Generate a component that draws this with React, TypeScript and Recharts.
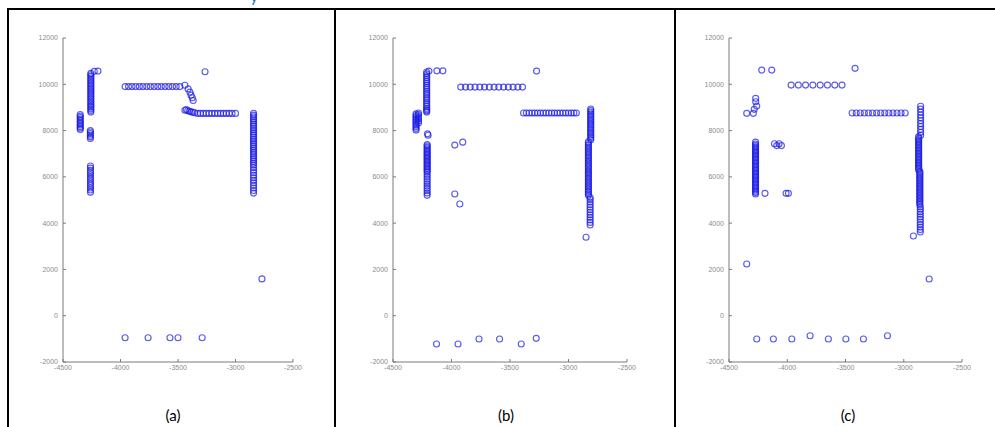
import React from 'react';
import { ScatterChart, Scatter, XAxis, YAxis } from 'recharts';

type Pt = { x: number; y: number };

const X_TICKS = [-4500, -4000, -3500, -3000, -2500];
const Y_TICKS = [-2000, 0, 2000, 4000, 6000, 8000, 10000, 12000];
const CAPTIONS = ['(a)', '(b)', '(c)'];

// ---- panel (a) ----
const aLeftBlockX = -4350;
const aLeftBlockY = [8050, 8110, 8170, 8240, 8300, 8360, 8430, 8490, 8560, 8620, 8690];
const aUpperColX = -4258;
const aUpperColY = [8800, 8870, 8940, 9010, 9080, 9150, 9220, 9290, 9360, 9430, 9500, 9570, 9640, 9710, 9780, 9850, 9920, 9990, 10060, 10130, 10200, 10270, 10340, 10410, 10470];
const aMidSegX = -4262;
const aMidSegY = [7660, 7730, 7800, 7870, 7940, 8000];
const aLowerColX = -4261;
const aLowerColY = [5340, 5430, 5520, 5620, 5710, 5800, 5900, 5990, 6090, 6180, 6280, 6380, 6470];
const aRightColX = -2843;
const aRightColY = [5300, 5410, 5520, 5630, 5740, 5850, 5960, 6070, 6180, 6290, 6400, 6510, 6590, 6670, 6750, 6830, 6910, 6990, 7070, 7150, 7230, 7310, 7390, 7470, 7550, 7630, 7710, 7790, 7870, 7950, 8030, 8110, 8190, 8270, 8350, 8430, 8510, 8590, 8670, 8750];
const aTopRowY = 9900;
const aTopRowX = [-3960, -3930, -3900, -3868, -3836, -3805, -3772, -3740, -3708, -3676, -3645, -3612, -3580, -3548, -3516, -3484];
const aLowRowY = 8740;
const aLowRowX = [-3330, -3305, -3280, -3255, -3230, -3205, -3180, -3155, -3130, -3105, -3080, -3055, -3030, -3000];
const aPoints: [number, number][] = [
  [-4228, 10560], [-4196, 10570],
  [-3440, 9960], [-3412, 9800], [-3396, 9660], [-3386, 9530], [-3376, 9420], [-3368, 9300],
  [-3440, 8880], [-3428, 8910], [-3415, 8860], [-3400, 8830], [-3385, 8810], [-3370, 8790], [-3355, 8770],
  [-3265, 10540], [-2770, 1590],
  [-3960, -950], [-3760, -950], [-3570, -950], [-3500, -950], [-3290, -950],
];

// ---- panel (b) ----
const bLeftAX = -4303;
const bLeftAY = [8020, 8090, 8160, 8230, 8300, 8370, 8440, 8510, 8580, 8650, 8720];
const bLeftBX = -4282;
const bLeftBY = [8330, 8420, 8510, 8600, 8690, 8760];
const bUpperColX = -4212;
const bUpperColY = [8800, 8850, 8900, 8960, 9040, 9120, 9200, 9290, 9370, 9450, 9540, 9620, 9700, 9790, 9870, 9950, 10040, 10120, 10200, 10290, 10370, 10450, 10530];
const bLowerColX = -4208;
const bLowerColY = [5200, 5300, 5400, 5500, 5600, 5700, 5800, 5900, 6000, 6100, 6200, 6260, 6320, 6380, 6440, 6500, 6560, 6620, 6680, 6740, 6800, 6860, 6920, 6980, 7040, 7100, 7160, 7220, 7280, 7340, 7400];
const bRightTopX = -2810;
const bRightTopY = [7600, 7670, 7740, 7810, 7880, 7950, 8020, 8090, 8160, 8230, 8300, 8370, 8440, 8510, 8580, 8650, 8720, 8790, 8860, 8930];
const bRightMidX = -2830;
const bRightMidY = [5200, 5270, 5340, 5410, 5480, 5550, 5620, 5690, 5760, 5830, 5900, 5970, 6040, 6110, 6180, 6250, 6320, 6390, 6460, 6530, 6600, 6670, 6740, 6810, 6880, 6950, 7020, 7090, 7160, 7230, 7300, 7370, 7440, 7510];
const bRightLowX = -2815;
const bRightLowY = [3920, 4030, 4140, 4250, 4360, 4470, 4580, 4690, 4800, 4910, 5020, 5110];
const bHighRowY = 9880;
const bHighRowX = [-3921, -3880, -3840, -3799, -3758, -3718, -3677, -3636, -3596, -3555, -3514, -3474, -3433, -3393];
const bLowRowY = 8760;
const bLowRowX = [-3384, -3360, -3336, -3312, -3288, -3264, -3240, -3216, -3192, -3168, -3144, -3120, -3096, -3072, -3048, -3024, -3000, -2976, -2954, -2933];
const bPoints: [number, number][] = [
  [-4193, 10570], [-4125, 10580], [-4074, 10580],
  [-4205, 7860], [-4200, 7800],
  [-3972, 7374], [-3904, 7500], [-3972, 5260], [-3929, 4826],
  [-3273, 10570], [-2850, 3390],
  [-4128, -1222], [-3944, -1222], [-3765, -1006], [-3589, -1006], [-3404, -1222], [-3276, -976],
];

// ---- panel (c) ----
const cLeftColX = -4272;
const cLeftColY = [5260, 5320, 5380, 5440, 5500, 5560, 5620, 5680, 5740, 5800, 5860, 5920, 5980, 6040, 6100, 6160, 6220, 6280, 6340, 6400, 6460, 6520, 6580, 6640, 6700, 6760, 6820, 6880, 6940, 7000, 7060, 7120, 7180, 7240, 7300, 7360, 7420, 7500];
const cRightTopX = -2855;
const cRightTopY = [7800, 7925, 8050, 8175, 8300, 8425, 8550, 8675, 8800, 8925, 9050];
const cRightMidX = -2872;
const cRightMidY = [6300, 6365, 6430, 6495, 6560, 6625, 6690, 6755, 6820, 6885, 6950, 7015, 7080, 7145, 7210, 7275, 7340, 7405, 7470, 7535, 7600, 7665, 7740];
const cRightDenseX = -2862;
const cRightDenseY = [4800, 4865, 4930, 4995, 5060, 5125, 5190, 5255, 5320, 5385, 5450, 5515, 5580, 5645, 5710, 5775, 5840, 5905, 5970, 6035, 6100, 6170, 6235];
const cRightLowX = -2858;
const cRightLowY = [3616, 3720, 3830, 3940, 4050, 4160, 4270, 4380, 4490, 4600, 4700];
const cHighRowY = 9966;
const cHighRowX = [-3967, -3905, -3843, -3780, -3717, -3655, -3592, -3530];
const cRightRowY = 8760;
const cRightRowX = [-3443, -3408, -3373, -3338, -3303, -3268, -3233, -3198, -3163, -3128, -3093, -3058, -3023, -2988];
const cPoints: [number, number][] = [
  [-4219, 10614], [-4133, 10614], [-3418, 10690],
  [-4271, 9392], [-4271, 9245], [-4262, 9059], [-4283, 8917], [-4348, 8744], [-4291, 8744],
  [-4110, 7430], [-4070, 7430], [-4090, 7350], [-4050, 7350],
  [-4191, 5288], [-4010, 5288], [-3990, 5288],
  [-2917, 3443], [-2782, 1586], [-4348, 2234],
  [-4262, -1006], [-4119, -1006], [-3961, -1006], [-3804, -864], [-3647, -1006], [-3497, -1006], [-3346, -1006], [-3140, -864],
];

const col = (x: number, ys: number[]): Pt[] => ys.map((y) => ({ x, y }));
const row = (y: number, xs: number[]): Pt[] => xs.map((x) => ({ x, y }));
const pts = (list: [number, number][]): Pt[] => list.map(([x, y]) => ({ x, y }));

const dataA: Pt[] = [
  ...col(aLeftBlockX, aLeftBlockY), ...col(aUpperColX, aUpperColY), ...col(aMidSegX, aMidSegY),
  ...col(aLowerColX, aLowerColY), ...col(aRightColX, aRightColY),
  ...row(aTopRowY, aTopRowX), ...row(aLowRowY, aLowRowX), ...pts(aPoints),
];
const dataB: Pt[] = [
  ...col(bLeftAX, bLeftAY), ...col(bLeftBX, bLeftBY), ...col(bUpperColX, bUpperColY), ...col(bLowerColX, bLowerColY),
  ...col(bRightTopX, bRightTopY), ...col(bRightMidX, bRightMidY), ...col(bRightLowX, bRightLowY),
  ...row(bHighRowY, bHighRowX), ...row(bLowRowY, bLowRowX), ...pts(bPoints),
];
const dataC: Pt[] = [
  ...col(cLeftColX, cLeftColY), ...col(cRightTopX, cRightTopY), ...col(cRightMidX, cRightMidY),
  ...col(cRightDenseX, cRightDenseY), ...col(cRightLowX, cRightLowY),
  ...row(cHighRowY, cHighRowX), ...row(cRightRowY, cRightRowX), ...pts(cPoints),
];

const Ring = (p: any) => (
  <circle cx={p.cx} cy={p.cy} r={3} fill="none" stroke="#1c1ce4" strokeOpacity={0.72} strokeWidth={1.15} />
);

const tickStyle = { fontSize: 7, fill: '#8c8c8c', fontFamily: 'Liberation Sans, Arial, sans-serif' };

function Panel({ data, plotLeft, plotWidth }: { data: Pt[]; plotLeft: number; plotWidth: number }) {
  const ml = 50;
  const mt = 10;
  const mr = 10;
  const xh = 30;
  const plotHeight = 324;
  return (
    <div style={{ position: 'absolute', left: plotLeft - ml, top: 38 - mt }}>
      <ScatterChart
        width={ml + plotWidth + mr}
        height={mt + plotHeight + xh}
        margin={{ top: mt, right: mr, bottom: 0, left: 0 }}
      >
        <XAxis
          type="number"
          dataKey="x"
          domain={[-4500, -2500]}
          ticks={X_TICKS}
          interval={0}
          height={xh}
          tickSize={-3}
          tickMargin={6}
          axisLine={{ stroke: '#7a7a7a' }}
          tickLine={{ stroke: '#7a7a7a' }}
          tick={tickStyle}
          allowDataOverflow
        />
        <YAxis
          type="number"
          dataKey="y"
          domain={[-2000, 12000]}
          ticks={Y_TICKS}
          interval={0}
          width={ml}
          tickSize={-3}
          tickMargin={8}
          axisLine={{ stroke: '#7a7a7a' }}
          tickLine={{ stroke: '#7a7a7a' }}
          tick={tickStyle}
          allowDataOverflow
        />
        <Scatter data={data} shape={Ring} isAnimationActive={false} />
      </ScatterChart>
    </div>
  );
}

export default function App() {
  const captionCenters = [173, 506, 848];
  return (
    <div style={{ position: 'absolute', left: 0, top: 0, width: 995, height: 427, overflow: 'hidden', background: '#fff' }}>
      <div style={{ position: 'absolute', left: 250, top: -14, fontSize: 16, color: '#2e74b5', fontFamily: 'Lato, sans-serif' }}>y</div>
      {/* table borders */}
      <div style={{ position: 'absolute', left: 7, top: 8, width: 988, height: 2, background: '#000' }} />
      <div style={{ position: 'absolute', left: 7, top: 8, width: 2, height: 419, background: '#000' }} />
      <div style={{ position: 'absolute', left: 334, top: 8, width: 2, height: 419, background: '#000' }} />
      <div style={{ position: 'absolute', left: 674, top: 8, width: 2, height: 419, background: '#000' }} />

      <Panel data={dataA} plotLeft={63} plotWidth={230} />
      <Panel data={dataB} plotLeft={393} plotWidth={234} />
      <Panel data={dataC} plotLeft={729} plotWidth={233} />

      {CAPTIONS.map((c, i) => (
        <div
          key={c}
          style={{
            position: 'absolute',
            left: captionCenters[i] - 30,
            width: 60,
            top: 406,
            textAlign: 'center',
            fontSize: 15,
            lineHeight: '18px',
            fontFamily: 'Lato, sans-serif',
            color: '#000',
          }}
        >
          {c}
        </div>
      ))}
    </div>
  );
}
